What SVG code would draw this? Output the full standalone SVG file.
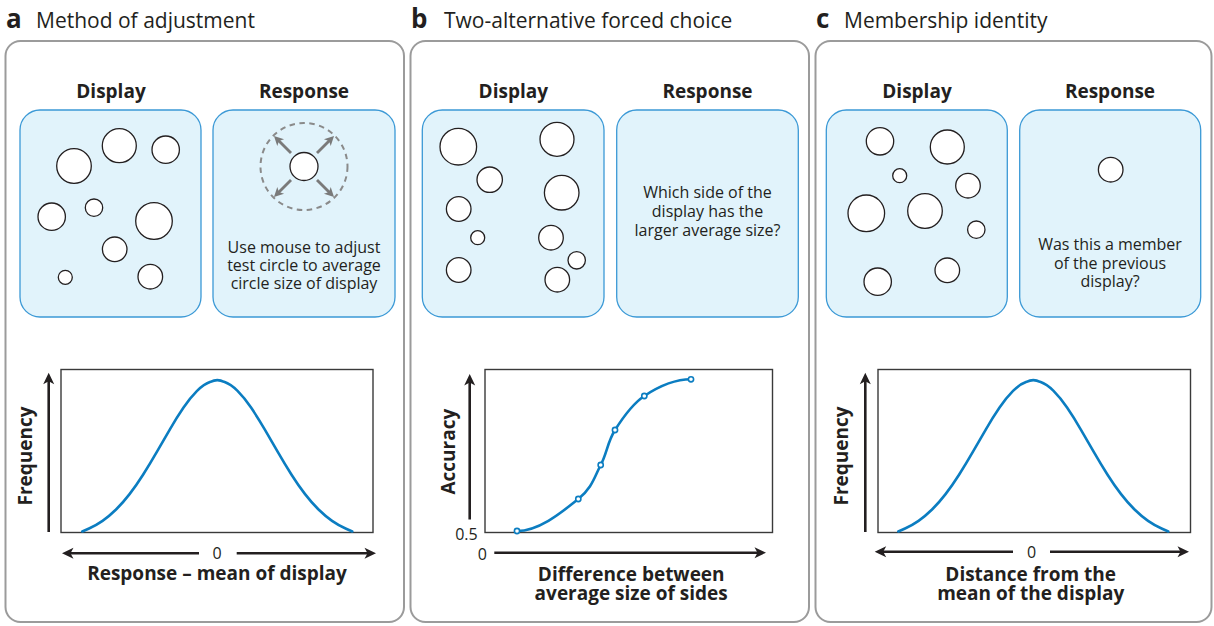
<svg xmlns="http://www.w3.org/2000/svg" xmlns:xlink="http://www.w3.org/1999/xlink" width="1214" height="626" viewBox="0 0 1214 626">
<style>
text{font-family:"Open Sans","Liberation Sans",sans-serif;fill:#231f20}
.letter{font-size:26px;font-weight:700}
.title{font-size:21px}
.head{font-size:19px;font-weight:700;text-anchor:middle}
.body{font-size:16px;text-anchor:middle}
.num{font-size:16px}
.panel{fill:#fff;stroke:#9b9b9b;stroke-width:2}
.box{fill:#e1f3fb;stroke:#3b99d6;stroke-width:1.3}
.dot{fill:#fff;stroke:#231f20;stroke-width:1.3}
.plot{fill:none;stroke:#3a3a3a;stroke-width:1.4}
.axis{fill:none;stroke:#231f20;stroke-width:2.6}
.curve{fill:none;stroke:#0b7dc1;stroke-width:2.6;stroke-linecap:round;stroke-linejoin:round}
.mk{fill:#fff;stroke:#0b7dc1;stroke-width:1.6}
.garrow{fill:none;stroke:#7a7a7a;stroke-width:2.8}
</style>
<defs>
<marker id="ah" viewBox="-12 -6 13 12" refX="-6" refY="0" markerWidth="13" markerHeight="12" markerUnits="userSpaceOnUse" orient="auto-start-reverse">
<path d="M0,0 L-11.5,-5.5 L-8.5,0 L-11.5,5.5 Z" fill="#231f20"/>
</marker>
<marker id="gah" viewBox="-10 -5 11 10" refX="-5" refY="0" markerWidth="11" markerHeight="10" markerUnits="userSpaceOnUse" orient="auto">
<path d="M0,0 L-9.5,-4.8 L-7,0 L-9.5,4.8 Z" fill="#7a7a7a"/>
</marker>
<path id="gauss" d="M82.3,531.5 L89.05,528.5 Q95.8,525.5 102.55,520.85 Q109.3,516.2 116.05,509.55 Q122.8,502.9 129.55,494.15 Q136.3,485.4 143.05,474.75 Q149.8,464.1 156.55,452.4 Q163.3,440.7 170.05,429.1 Q176.8,417.5 183.55,407.6 Q190.3,397.7 197.05,390.95 Q203.8,384.2 210.55,381.85 Q217.3,378.3 224.05,381.85 Q230.8,384.2 237.55,390.95 Q244.3,397.7 251.05,407.6 Q257.8,417.5 264.55,429.1 Q271.3,440.7 278.05,452.4 Q284.8,464.1 291.55,474.75 Q298.3,485.4 305.05,494.15 Q311.8,502.9 318.55,509.55 Q325.3,516.2 332.05,520.85 Q338.8,525.5 345.55,528.5 L352.3,531.5"/>
</defs>

<g id="panel-a">
<text class="letter" x="6" y="27.5">a</text>
<text class="title" x="36" y="27.5">Method of adjustment</text>
<rect class="panel" x="5.5" y="41" width="398.5" height="581" rx="15"/>
<g id="a-display">
<text class="head" x="111" y="98">Display</text>
<rect class="box" x="20" y="110" width="181" height="207" rx="20"/>
<circle class="dot" cx="74" cy="166" r="17.3"/>
<circle class="dot" cx="119.3" cy="145.7" r="17"/>
<circle class="dot" cx="165.7" cy="149.7" r="13.7"/>
<circle class="dot" cx="51.7" cy="216.7" r="13.7"/>
<circle class="dot" cx="94" cy="207.7" r="8.7"/>
<circle class="dot" cx="154" cy="221" r="18.3"/>
<circle class="dot" cx="114.7" cy="249.3" r="12.3"/>
<circle class="dot" cx="65.3" cy="277.3" r="7"/>
<circle class="dot" cx="150.3" cy="276.7" r="12.3"/>
</g>
<g id="a-response">
<text class="head" x="304" y="98">Response</text>
<rect class="box" x="213" y="110" width="182" height="207" rx="20"/>
<circle cx="304" cy="166.5" r="43.5" fill="none" stroke="#8a8a8a" stroke-width="2" stroke-dasharray="5.5 4.5"/>
<circle class="dot" cx="304" cy="166.5" r="14"/>
<line class="garrow" x1="291" y1="153" x2="277.5" y2="139.5" marker-end="url(#gah)"/>
<line class="garrow" x1="317" y1="153" x2="330.5" y2="139.5" marker-end="url(#gah)"/>
<line class="garrow" x1="291" y1="180" x2="277.5" y2="193.5" marker-end="url(#gah)"/>
<line class="garrow" x1="317" y1="180" x2="330.5" y2="193.5" marker-end="url(#gah)"/>
<text class="body" x="304" y="253">Use mouse to adjust</text>
<text class="body" x="304" y="271">test circle to average</text>
<text class="body" x="304" y="289">circle size of display</text>
</g>
<g id="a-plot">
<rect class="plot" x="61" y="369.5" width="312" height="163"/>
<use xlink:href="#gauss" class="curve"/>
<text class="head" transform="translate(31.6,456) rotate(-90)">Frequency</text>
<text class="num" x="217" y="559.3" text-anchor="middle">0</text>
<text class="head" x="217" y="580">Response – mean of display</text>
</g>
</g>

<g id="panel-b">
<text class="letter" x="411" y="27.5">b</text>
<text class="title" x="444" y="27.5">Two-alternative forced choice</text>
<rect class="panel" x="410.5" y="41" width="398.5" height="581" rx="15"/>
<g id="b-display">
<text class="head" x="513.3" y="98">Display</text>
<rect class="box" x="422.3" y="110" width="181.7" height="207" rx="20"/>
<circle class="dot" cx="458.3" cy="146.7" r="18.3"/>
<circle class="dot" cx="557" cy="139.3" r="17"/>
<circle class="dot" cx="489.7" cy="179.7" r="12.7"/>
<circle class="dot" cx="561.7" cy="192.7" r="17.3"/>
<circle class="dot" cx="458.7" cy="209" r="12.3"/>
<circle class="dot" cx="477.7" cy="237.7" r="7"/>
<circle class="dot" cx="551" cy="237.7" r="12.3"/>
<circle class="dot" cx="576.7" cy="260.3" r="8.7"/>
<circle class="dot" cx="458.7" cy="270" r="12.3"/>
<circle class="dot" cx="557.3" cy="279.7" r="12.3"/>
</g>
<g id="b-response">
<text class="head" x="707.5" y="98">Response</text>
<rect class="box" x="616.7" y="110" width="181.6" height="207" rx="20"/>
<text class="body" x="707.5" y="198.3">Which side of the</text>
<text class="body" x="707.5" y="217.3">display has the</text>
<text class="body" x="707.5" y="236">larger average size?</text>
</g>
<g id="b-plot">
<rect class="plot" x="485" y="369.5" width="287.5" height="163"/>
<path class="curve" d="M517,531 C540.3,531 564.35,510 578.3,499 C592.25,488 594.6,476.5 600.7,465 C606.8,453.5 607.7,441.5 615,430 C622.3,418.5 631.6,404.45 644.3,396 C657,387.55 674.3,379.3 691,379.3"/>
<circle class="mk" cx="517" cy="531" r="2.6"/>
<circle class="mk" cx="578.3" cy="499" r="2.6"/>
<circle class="mk" cx="600.7" cy="465" r="2.6"/>
<circle class="mk" cx="615" cy="430" r="2.6"/>
<circle class="mk" cx="644.3" cy="396" r="2.6"/>
<circle class="mk" cx="691" cy="379.3" r="2.6"/>
<text class="head" transform="translate(455.3,451.7) rotate(-90)">Accuracy</text>
<text class="num" x="477.7" y="540" text-anchor="end">0.5</text>
<text class="num" x="482.3" y="560" text-anchor="middle">0</text>
<text class="head" x="631.2" y="580.7">Difference between</text>
<text class="head" x="631.2" y="600">average size of sides</text>
</g>
</g>

<g id="panel-c">
<text class="letter" x="816" y="27.5">c</text>
<text class="title" x="844" y="27.5">Membership identity</text>
<rect class="panel" x="815.5" y="41" width="396" height="581" rx="15"/>
<g id="c-display">
<text class="head" x="917" y="98">Display</text>
<rect class="box" x="826.3" y="110" width="181" height="207" rx="20"/>
<circle class="dot" cx="880" cy="141.3" r="13.7"/>
<circle class="dot" cx="947.3" cy="147" r="17"/>
<circle class="dot" cx="899.7" cy="175.7" r="7"/>
<circle class="dot" cx="968" cy="185.7" r="12.3"/>
<circle class="dot" cx="866.3" cy="213.3" r="18.3"/>
<circle class="dot" cx="925" cy="211" r="17.3"/>
<circle class="dot" cx="976.3" cy="229.7" r="8.7"/>
<circle class="dot" cx="877.7" cy="281.7" r="13.7"/>
<circle class="dot" cx="947.3" cy="270.3" r="12.3"/>
</g>
<g id="c-response">
<text class="head" x="1110" y="98">Response</text>
<rect class="box" x="1019.7" y="110" width="181" height="207" rx="20"/>
<circle class="dot" cx="1110.7" cy="169.7" r="12.3"/>
<text class="body" x="1110" y="250">Was this a member</text>
<text class="body" x="1110" y="268.7">of the previous</text>
<text class="body" x="1110" y="286.7">display?</text>
</g>
<g id="c-plot">
<rect class="plot" x="878" y="369.5" width="312.5" height="163"/>
<use xlink:href="#gauss" class="curve" transform="translate(816,0)"/>
<text class="head" transform="translate(848.3,456) rotate(-90)">Frequency</text>
<text class="num" x="1031.7" y="557.7" text-anchor="middle">0</text>
<text class="head" x="1030.7" y="580.7">Distance from the</text>
<text class="head" x="1030.7" y="599.5">mean of the display</text>
</g>
</g>

<g id="connectors">
<line class="axis" x1="48.7" y1="532" x2="48.7" y2="378.7" marker-end="url(#ah)"/>
<line class="axis" x1="199" y1="553.3" x2="68" y2="553.3" marker-end="url(#ah)"/>
<line class="axis" x1="236.7" y1="553.3" x2="370" y2="553.3" marker-end="url(#ah)"/>
<line class="axis" x1="469.7" y1="519.5" x2="469.7" y2="380" marker-end="url(#ah)"/>
<line class="axis" x1="494.3" y1="552.7" x2="760" y2="552.7" marker-end="url(#ah)"/>
<line class="axis" x1="865.3" y1="532" x2="865.3" y2="378.7" marker-end="url(#ah)"/>
<line class="axis" x1="1013" y1="551.7" x2="880.7" y2="551.7" marker-end="url(#ah)"/>
<line class="axis" x1="1050" y1="551.7" x2="1183" y2="551.7" marker-end="url(#ah)"/>
</g>
</svg>
